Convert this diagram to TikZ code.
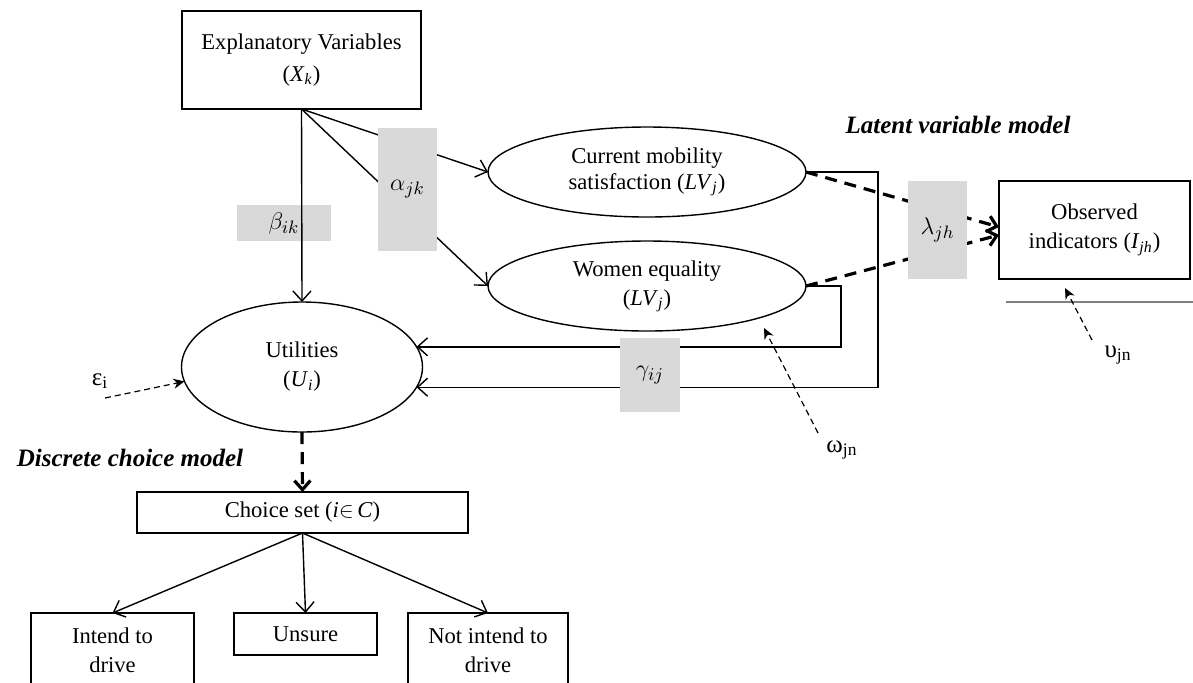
\documentclass[tikz,border=0pt]{standalone}
\usepackage{fontspec}
\setmainfont{Liberation Serif}
\usetikzlibrary{arrows.meta,shapes.geometric}

\definecolor{coefgray}{RGB}{217,217,217}
\newcommand{\isub}[1]{\textsubscript{\textit{#1}}}

\tikzset{
  boxnode/.style={draw, line width=0.8pt, align=center, inner sep=0pt, outer sep=0pt},
  latnode/.style={draw, ellipse, line width=0.7pt, align=center, inner sep=0pt, outer sep=0pt},
  coef/.style={fill=coefgray, inner sep=0pt, outer sep=0pt, font=\fontsize{13}{16}\selectfont},
  arr/.style={line width=0.7pt, -{Straight Barb[length=5pt,width=9pt]}},
  dasharr/.style={line width=1.6pt, dash pattern=on 6pt off 4pt, -{Straight Barb[length=4.5pt,width=8pt]}},
  errarr/.style={line width=0.6pt, dash pattern=on 3pt off 2pt, -{Stealth[length=5.5pt,width=5pt]}},
  errlabel/.style={font=\fontsize{12.5}{15}\selectfont},
  modeltitle/.style={font=\fontsize{12.5}{15}\selectfont\bfseries\itshape},
}

\begin{document}
\begin{tikzpicture}[x=0.5pt, y=-0.5pt, font=\fontsize{11.3}{14.5}\selectfont]
  \useasboundingbox (0,0) rectangle (1193,682);
  \clip (0,0) rectangle (1193,682);

  % Structural and latent part
  \node[boxnode, minimum width=119.5pt, minimum height=49pt] (expl) at (301.5,60) {Explanatory Variables\\[1.5pt](\textit{X}\isub{k})};
  \node[latnode, minimum width=159pt, minimum height=45pt] (cms) at (647,172) {Current mobility\\[-1.5pt]satisfaction (\textit{LV}\isub{j})};
  \node[latnode, minimum width=159pt, minimum height=45pt] (weq) at (647,286) {Women equality\\(\textit{LV}\isub{j})};
  \node[latnode, minimum width=120.5pt, minimum height=65pt] (util) at (302,367) {Utilities\\(\textit{U}\isub{i})};
  \node[boxnode, minimum width=95.5pt, minimum height=49pt] (obs) at (1094.5,230) {Observed\\indicators (\textit{I}\isub{jh})};

  % Choice part
  \node[boxnode, minimum width=165.5pt, minimum height=20.5pt] (choice) at (302.5,512.5) {Choice set (\textit{i}$\in$\,\textit{C})};
  \node[boxnode, minimum width=81.5pt, minimum height=37pt] (intend) at (112.5,650) {Intend to\\drive};
  \node[boxnode, minimum width=71.5pt, minimum height=21pt] (unsure) at (305.5,634) {Unsure};
  \node[boxnode, minimum width=80pt, minimum height=37pt] (notint) at (488,650) {Not intend to\\drive};

  % Coefficient under the direct effect
  \node[coef, minimum width=47pt, minimum height=18pt] (beta) at (284,223) {$\beta_{ik}$};

  % Structural connectors
  \draw[arr] (expl.south) -- (util.north);
  \draw[arr] (expl.south) -- (cms.west);
  \draw[arr] (expl.south) -- (weq.west);
  \draw[arr] (weq.east) -- ++(35,0) |- (util.10.4);
  \draw[arr] (cms.east) -- ++(72,0) |- (util.-10.4);

  % Coefficients covering the connectors
  \node[coef, minimum width=29.5pt, minimum height=61.5pt] (alpha) at (407.5,189) {$\alpha_{jk}$};
  \node[coef, minimum width=30pt, minimum height=37pt] (gamma) at (650,375) {$\gamma_{ij}$};

  % Measurement part
  \draw[dasharr] (cms.east) -- ([yshift=1.5pt]obs.west);
  \draw[dasharr] (weq.east) -- ([yshift=-2.5pt]obs.west);
  \node[coef, minimum width=29.5pt, minimum height=49pt] (lambda) at (937.5,230) {$\lambda_{jh}$};
  \draw[gray, line width=0.6pt] (1006,302) -- (1193,302);

  % Choice connectors
  \draw[dasharr] (util.south) -- (choice.north);
  \draw[arr] (choice.south) -- (intend.north);
  \draw[arr] (choice.south) -- (unsure.north);
  \draw[arr] (choice.south) -- (notint.north);

  % Error terms
  \node[errlabel] (eps) at (100,381) {ε\textsubscript{i}};
  \coordinate (epsstart) at (105,398);
  \draw[errarr] (epsstart) -- (util.187);
  \node[errlabel] (omega) at (842,450) {ω\textsubscript{jn}};
  \coordinate (omegastart) at (818,433);
  \coordinate (omegatip) at (764,328);
  \draw[errarr] (omegastart) -- (omegatip);
  \node[errlabel] (upsilon) at (1118,355) {υ\textsubscript{jn}};
  \coordinate (upsstart) at (1092,340);
  \coordinate (upstip) at (1065,288);
  \draw[errarr] (upsstart) -- (upstip);

  % Model titles
  \node[modeltitle] (lvmtitle) at (958,125) {Latent variable model};
  \node[modeltitle] (dcmtitle) at (130,458) {Discrete choice model};
\end{tikzpicture}
\end{document}
